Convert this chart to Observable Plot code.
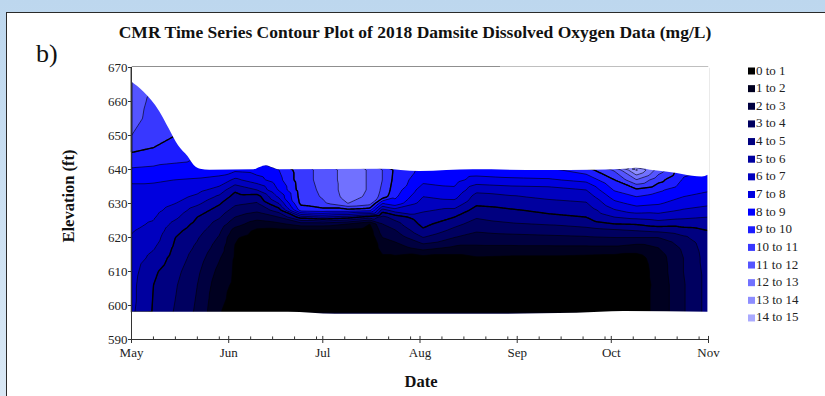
<!DOCTYPE html>
<html>
<head>
<meta charset="utf-8">
<script src="https://cdn.jsdelivr.net/npm/d3@7"></script>
<script src="https://cdn.jsdelivr.net/npm/@observablehq/plot@0.6"></script>
<style>
html, body { margin: 0; padding: 0; }
body { width: 825px; height: 396px; overflow: hidden; position: relative;
  background: linear-gradient(to bottom, #bdd7ee 0%, #d9e8f5 100%);
  font-family: "Liberation Serif", "Times New Roman", serif; }
#panel { position: absolute; left: 6px; top: 12px; right: 0; bottom: 0; background: #fff;
  border-left: 1px solid #2a2a2a; border-top: 1px solid #2a2a2a; }
#chart, #overlay { position: absolute; left: 0; top: 0; }
</style>
</head>
<body>
<div id="panel"></div>
<div id="chart"></div>
<svg id="overlay" width="825" height="396"></svg>
<script>
// ---- data ----
const profileDates = ["2018-05-01","2018-05-08","2018-05-15","2018-05-22","2018-05-29","2018-06-03",
  "2018-06-10","2018-06-17","2018-06-24","2018-07-01","2018-07-09","2018-07-16","2018-07-20","2018-07-24",
  "2018-08-02","2018-08-12","2018-08-19","2018-08-30","2018-09-11","2018-09-23","2018-10-02","2018-10-09",
  "2018-10-16","2018-10-24","2018-11-01"];
const elevations = [598,602,606,610,614,617,620,622,624,626,628,630,632,634,637,640,645,650,655,660,666];
// dissolved oxygen (mg/L) per profile date, from bottom (598 ft) upward
const doProfiles = [
  [6.2,6.3,6.3,6.4,6.6,6.8,6.95,7.05,7.2,7.3,7.5,7.6,7.7,7.85,8.1,8.9,10.0,11.0,11.4,11.6,11.8],
  [4.9,4.95,5.0,5.2,5.7,6.1,6.5,6.7,6.9,7.1,7.3,7.5,7.65,7.8,8.1,8.8,9.8,10.5,10.6,10.7],
  [3.9,4.0,4.1,4.3,4.6,4.8,5.0,5.3,5.7,6.2,6.6,7.0,7.3,7.6,8.0,8.7,9.5,10.0],
  [2.8,2.9,3.0,3.2,3.5,3.8,4.1,4.4,4.7,5.0,5.5,6.2,6.8,7.3,7.9,8.6],
  [1.05,1.2,1.4,1.7,2.1,2.5,2.9,3.2,3.6,4.1,4.6,5.1,5.8,6.6,7.7,8.5],
  [0.7,0.75,0.8,0.85,0.9,0.95,1.1,1.6,2.4,3.0,3.6,4.2,4.6,5.2,6.8,8.3],
  [0.3,0.3,0.3,0.3,0.3,0.4,0.6,0.8,1.5,2.4,3.2,3.9,4.5,6.0,7.6,8.5],
  [0.2,0.2,0.2,0.2,0.2,0.3,0.4,0.7,1.8,3.0,4.5,6.0,7.2,8.1,8.7,9.0],
  [0.2,0.2,0.2,0.2,0.2,0.3,0.5,0.8,2.5,5.5,9.4,10.2,10.4,10.5,10.6,10.6],
  [0.1,0.1,0.1,0.1,0.1,0.2,0.4,0.8,2.5,6.0,9.6,10.8,11.1,11.2,11.3,11.3],
  [0.1,0.1,0.1,0.1,0.1,0.2,0.4,0.7,2.0,5.5,9.6,12.0,12.4,12.5,12.5,12.5],
  [0.2,0.2,0.2,0.2,0.2,0.2,0.3,0.5,1.0,4.5,9.3,11.4,11.8,11.9,11.9,11.9],
  [0.1,0.1,0.2,0.3,0.8,1.4,2.0,2.5,3.0,3.7,5.5,8.0,10.6,10.8,11.0,11.0],
  [0.1,0.1,0.2,0.3,0.8,1.6,2.3,2.9,3.6,4.4,6.5,8.6,9.2,9.5,9.7,9.8],
  [0.1,0.1,0.1,0.2,0.6,2.4,4.0,4.8,5.3,5.7,6.1,6.5,7.0,7.5,8.3,8.7],
  [0.1,0.1,0.1,0.2,0.6,1.8,3.0,3.7,4.3,5.0,5.8,6.6,7.3,7.8,8.4,8.8],
  [0.1,0.1,0.1,0.2,0.9,1.8,2.6,3.1,3.6,4.1,4.6,5.2,5.6,6.3,7.6,8.7],
  [0.1,0.1,0.1,0.2,0.8,1.8,2.7,3.3,3.9,4.5,4.9,5.4,5.9,6.5,7.8,8.8],
  [0.1,0.1,0.1,0.2,0.8,1.8,2.8,3.4,4.1,4.8,5.2,5.7,6.2,6.6,7.9,8.8],
  [0.1,0.1,0.1,0.2,0.7,1.8,2.9,3.5,4.5,5.0,5.4,5.9,6.4,7.0,8.3,9.6],
  [0.1,0.1,0.1,0.2,0.6,1.8,3.0,3.8,5.0,6.0,6.9,7.7,8.4,9.1,10.0,11.2],
  [0.5,0.5,0.4,0.4,0.6,1.5,3.0,4.0,5.1,6.3,7.5,8.3,9.0,9.8,12.0,14.2],
  [1.3,1.3,1.3,1.4,1.5,2.0,3.0,4.2,5.5,6.5,7.4,8.1,8.6,9.2,10.4,11.6],
  [2.9,2.9,2.9,3.0,3.0,3.2,3.8,4.6,5.4,6.2,6.9,7.5,8.0,8.4,8.9,9.3],
  [4.4,4.4,4.4,4.4,4.5,4.6,4.8,5.0,5.5,6.0,6.6,7.2,7.7,8.1,8.6,8.9]
];
// water surface and reservoir bottom (ft)
const surfaceDates = ["2018-05-01","2018-05-05","2018-05-10","2018-05-13","2018-05-16","2018-05-19","2018-05-21",
  "2018-05-23","2018-05-26","2018-06-09","2018-06-11","2018-06-13","2018-06-15","2018-06-17","2018-07-20",
  "2018-08-01","2018-08-18","2018-09-10","2018-09-25","2018-10-04","2018-10-09","2018-10-15","2018-10-22",
  "2018-10-27","2018-10-30","2018-11-01"];
const surfaceElev = [665.8,662.7,657.0,652.0,647.0,643.8,641.2,640.1,639.8,639.9,640.6,641.1,640.5,639.9,640.1,
  639.4,639.9,639.7,639.8,640.0,640.4,639.6,638.8,638.0,637.8,638.3];
const bottomDates = ["2018-05-01","2018-06-01","2018-06-20","2018-07-05","2018-08-15","2018-09-20","2018-10-05","2018-11-01"];
const bottomElev = [598.0,598.0,598.0,597.4,597.4,597.7,598.2,598.0];
const levels = d3.range(0, 15);
const legendLabels = ["0 to 1","1 to 2","2 to 3","3 to 4","4 to 5","5 to 6","6 to 7","7 to 8",
  "8 to 9","9 to 10","10 to 11","11 to 12","12 to 13","13 to 14","14 to 15"];
const yTicks = [590,600,610,620,630,640,650,660,670];
const monthTicks = ["2018-05-01","2018-06-01","2018-07-01","2018-08-01","2018-09-01","2018-10-01","2018-11-01"];
const monthLabels = ["May","Jun","Jul","Aug","Sep","Oct","Nov"];
const minorDays = [8,15,22,29];

// ---- styles ----
const bandColors = ["#000000","#000020","#000040","#000060","#000080","#00009f","#0000bf","#0000df",
  "#0000ff","#1c1cff","#3838ff","#5555ff","#7171ff","#8d8dff","#aaaaff"];

const parse = s => new Date(s + "T00:00:00Z");
const points = [];
profileDates.forEach((d, i) => doProfiles[i].forEach((v, j) =>
  points.push({date: parse(d), elev: elevations[j], value: v})));
const surface = surfaceDates.map((d, i) => ({date: parse(d), elev: surfaceElev[i]}));
const bottom = bottomDates.map((d, i) => ({date: parse(d), elev: bottomElev[i]}));
const months = monthTicks.map(parse);
const labelByTime = new Map(months.map((d, i) => [+d, monthLabels[i]]));
const minor = [];
months.slice(0, -1).forEach(m => minorDays.forEach(day =>
  minor.push(new Date(Date.UTC(m.getUTCFullYear(), m.getUTCMonth(), day)))));

const plot = Plot.plot({
  width: 825, height: 396,
  marginLeft: 131, marginRight: 117, marginTop: 67, marginBottom: 57,
  x: {type: "utc", domain: [months[0], months[months.length - 1]]},
  y: {domain: [590, 670]},
  color: {type: "threshold", domain: d3.range(1, 15), range: bandColors},
  style: {background: "transparent", fontFamily: "Liberation Serif, Times New Roman, serif", fontSize: "13px", color: "#222"},
  marks: [
    Plot.contour(points, {x: "date", y: "elev", fill: "value", thresholds: levels,
      interpolate: "barycentric", pixelSize: 1, stroke: "#000", strokeWidth: 0.6}),
    Plot.contour(points, {x: "date", y: "elev", value: "value", thresholds: [5, 10],
      interpolate: "barycentric", pixelSize: 1, fill: "none", stroke: "#000", strokeWidth: 1.4}),
    Plot.areaY(surface, {x: "date", y1: "elev", y2: 670, fill: "white", curve: "monotone-x"}),
    Plot.areaY(bottom, {x: "date", y1: 590, y2: "elev", fill: "white", curve: "monotone-x"}),
    Plot.ruleX([months[months.length - 1]], {stroke: "white", strokeWidth: 2.2}),
    Plot.ruleY([590], {stroke: "#333", strokeWidth: 1}),
    Plot.ruleX([months[0]], {y1: 590, y2: 670, stroke: "#333", strokeWidth: 1}),
    Plot.ruleX(minor, {y1: 590, y2: 590.75, stroke: "#333"}),
    Plot.ruleX(months, {y1: 590, y2: 590.9, stroke: "#333"}),
    Plot.axisY(yTicks, {tickSize: 3, tickPadding: 1, label: null, tickFormat: d => String(d), stroke: "#333"}),
    Plot.axisX(months, {tickSize: 4, tickPadding: 4, label: null, tickFormat: d => labelByTime.get(+d), stroke: "#333"})
  ]
});
document.getElementById("chart").appendChild(plot);

// ---- titles, axis names and legend ----
const svg = d3.select("#overlay").style("font-family", "Liberation Serif, Times New Roman, serif");
svg.append("text").attr("x", 415).attr("y", 38).attr("text-anchor", "middle")
  .attr("font-size", 17.5).attr("font-weight", "bold").attr("fill", "#111")
  .text("CMR Time Series Contour Plot of 2018 Damsite Dissolved Oxygen Data (mg/L)");
svg.append("text").attr("x", 36).attr("y", 62).attr("font-size", 26).attr("fill", "#111").text("b)");
svg.append("text").attr("transform", "translate(74,196) rotate(-90)").attr("text-anchor", "middle")
  .attr("font-size", 16.5).attr("font-weight", "bold").attr("fill", "#111").text("Elevation (ft)");
svg.append("text").attr("x", 421).attr("y", 387).attr("text-anchor", "middle")
  .attr("font-size", 16.5).attr("font-weight", "bold").attr("fill", "#111").text("Date");
const lg = svg.append("g");
legendLabels.forEach((t, i) => {
  const base = 74.5 + i * 17.64;
  lg.append("rect").attr("x", 748).attr("y", base - 7).attr("width", 7).attr("height", 7).attr("fill", bandColors[i]);
  lg.append("text").attr("x", 756).attr("y", base).attr("font-size", 13).attr("fill", "#222").text(t);
});
</script>
</body>
</html>
